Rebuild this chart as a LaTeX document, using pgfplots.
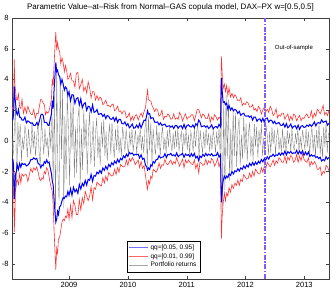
\documentclass[border=0pt]{standalone}
\usepackage{fontspec}
\setmainfont{Liberation Sans}
\usepackage{pgfplots}
\usepackage{pgfplotstable}
\pgfplotsset{compat=1.18}
\definecolor{oosc}{rgb}{0.52,0.36,0.95}
\pgfplotstableread{
t bu bl ru rl
2008.030 1.43 -1.26 2.20 -2.10
2008.045 1.39 -1.22 2.05 -1.95
2008.058 1.72 -1.62 2.35 -2.70
2008.068 3.55 -3.80 5.30 -5.95
2008.078 2.90 -3.20 3.70 -5.00
2008.090 2.48 -2.18 3.30 -3.10
2008.105 1.82 -1.99 2.70 -2.65
2008.120 1.70 -1.58 2.65 -2.55
2008.140 2.03 -1.86 3.05 -2.85
2008.160 1.54 -1.47 2.20 -2.15
2008.180 1.52 -1.72 2.10 -2.75
2008.200 1.35 -1.46 2.70 -2.15
2008.225 1.35 -1.55 1.80 -2.30
2008.250 1.54 -1.49 2.20 -2.20
2008.275 1.17 -1.64 1.80 -2.20
2008.300 1.30 -1.58 2.25 -2.65
2008.325 1.23 -1.46 1.95 -2.20
2008.350 1.14 -1.22 1.75 -1.80
2008.375 1.17 -1.22 1.70 -2.05
2008.400 1.00 -1.11 2.05 -1.75
2008.425 1.00 -1.20 1.45 -1.90
2008.450 1.19 -1.14 1.80 -1.70
2008.475 1.02 -1.49 1.75 -2.05
2008.500 1.35 -1.53 2.35 -2.50
2008.520 1.68 -1.76 2.70 -2.60
2008.540 1.74 -1.57 2.65 -2.40
2008.560 1.67 -1.62 2.45 -2.50
2008.580 1.20 -1.36 2.35 -2.00
2008.600 1.20 -1.45 1.70 -2.15
2008.620 1.19 -1.24 1.90 -1.75
2008.640 1.02 -1.44 1.80 -1.90
2008.660 1.00 -1.38 1.95 -2.35
2008.680 1.38 -1.76 2.30 -2.75
2008.700 1.74 -2.12 2.70 -3.10
2008.715 2.62 -2.62 4.05 -3.30
2008.730 2.10 -2.86 3.60 -4.15
2008.745 3.30 -3.80 4.90 -5.80
2008.760 4.20 -4.60 6.10 -7.10
2008.775 5.10 -5.30 7.10 -8.40
2008.790 4.50 -5.10 5.90 -7.00
2008.805 4.60 -4.60 6.40 -7.30
2008.820 4.30 -4.80 6.00 -6.40
2008.840 4.20 -4.30 5.80 -6.30
2008.860 3.70 -4.20 5.00 -5.80
2008.880 4.00 -3.90 5.40 -5.30
2008.900 3.70 -3.70 5.10 -5.10
2008.920 3.30 -3.75 4.50 -5.20
2008.940 3.50 -3.60 4.90 -4.90
2008.960 3.40 -3.65 4.55 -5.00
2008.980 2.95 -3.30 4.00 -4.45
2009.000 3.19 -3.54 4.10 -5.10
2009.025 2.60 -3.12 4.40 -4.20
2009.050 3.00 -3.55 3.90 -5.00
2009.075 2.98 -3.03 3.90 -3.90
2009.100 2.44 -3.33 3.50 -4.20
2009.125 2.75 -3.16 4.40 -4.80
2009.150 2.81 -3.42 4.45 -4.80
2009.175 2.33 -2.84 3.40 -3.85
2009.200 2.74 -3.14 3.65 -4.50
2009.225 2.15 -2.77 4.00 -3.70
2009.250 2.40 -2.95 3.25 -4.10
2009.275 2.48 -2.58 3.50 -3.30
2009.300 1.99 -2.88 3.10 -3.60
2009.325 2.25 -2.51 3.85 -3.90
2009.350 2.21 -2.57 3.45 -3.60
2009.375 1.88 -2.19 2.80 -3.00
2009.400 2.34 -2.64 3.20 -3.85
2009.425 1.85 -2.26 3.20 -3.05
2009.450 1.90 -2.30 2.65 -3.15
2009.475 2.04 -2.04 2.95 -2.70
2009.500 1.72 -2.14 2.65 -2.80
2009.525 1.75 -1.93 2.85 -2.90
2009.550 1.78 -2.11 2.75 -2.95
2009.575 1.59 -1.77 2.35 -2.40
2009.600 1.72 -1.92 2.45 -2.75
2009.625 1.45 -1.66 2.65 -2.30
2009.650 1.65 -1.85 2.30 -2.60
2009.675 1.59 -1.54 2.30 -2.05
2009.700 1.42 -1.69 2.20 -2.20
2009.725 1.40 -1.43 2.35 -2.30
2009.750 1.53 -1.56 2.40 -2.25
2009.775 1.29 -1.32 1.95 -1.85
2009.800 1.52 -1.47 2.05 -2.20
2009.825 1.20 -1.21 2.25 -1.75
2009.850 1.40 -1.40 1.90 -2.05
2009.875 1.39 -1.14 1.95 -1.55
2009.900 1.12 -1.24 1.75 -1.65
2009.925 1.10 -0.98 1.95 -1.70
2009.950 1.23 -1.11 1.95 -1.65
2009.975 0.99 -0.87 1.50 -1.25
2010.000 1.12 -1.02 1.60 -1.60
2010.025 0.85 -0.76 1.80 -1.15
2010.050 0.95 -0.85 1.30 -1.35
2010.075 1.09 -0.79 1.60 -1.10
2010.100 0.82 -0.94 1.35 -1.25
2010.125 0.85 -0.88 1.65 -1.55
2010.150 1.03 -0.91 1.70 -1.40
2010.175 0.84 -0.87 1.35 -1.25
2010.200 1.12 -1.12 1.60 -1.75
2010.225 0.85 -0.91 1.80 -1.35
2010.250 1.10 -1.20 1.55 -1.80
2010.275 1.34 -1.14 1.90 -1.60
2010.300 1.32 -1.59 2.15 -2.25
2010.320 1.65 -1.68 2.85 -2.85
2010.335 1.95 -1.90 3.30 -3.15
2010.350 1.74 -1.77 2.70 -2.60
2010.370 1.77 -1.87 2.60 -2.80
2010.390 1.45 -1.56 2.60 -2.30
2010.410 1.50 -1.65 2.30 -2.45
2010.430 1.49 -1.34 2.15 -1.85
2010.455 1.22 -1.44 1.90 -1.95
2010.480 1.20 -1.23 2.10 -2.05
2010.505 1.23 -1.21 2.00 -1.85
2010.530 1.04 -0.97 1.60 -1.45
2010.555 1.17 -1.12 1.70 -1.80
2010.580 1.00 -1.06 2.00 -1.55
2010.605 1.05 -1.05 1.40 -1.60
2010.630 1.09 -0.84 1.60 -1.20
2010.655 0.92 -1.09 1.55 -1.50
2010.680 0.95 -0.88 1.75 -1.55
2010.705 0.98 -0.91 1.65 -1.40
2010.730 0.89 -0.82 1.40 -1.25
2010.755 0.97 -0.97 1.45 -1.55
2010.780 0.80 -0.91 1.75 -1.35
2010.805 1.00 -1.00 1.40 -1.50
2010.830 0.99 -0.79 1.50 -1.10
2010.855 0.82 -1.04 1.40 -1.40
2010.880 0.95 -0.93 1.85 -1.65
2010.905 0.98 -0.91 1.65 -1.40
2010.930 0.79 -0.82 1.30 -1.20
2010.955 1.07 -1.07 1.55 -1.75
2010.980 0.80 -0.86 1.75 -1.25
2011.005 1.00 -0.95 1.40 -1.45
2011.030 1.04 -0.89 1.55 -1.25
2011.055 0.92 -1.04 1.55 -1.40
2011.080 0.90 -0.83 1.70 -1.50
2011.105 1.03 -1.01 1.70 -1.55
2011.130 0.84 -0.82 1.30 -1.25
2011.155 1.12 -1.12 1.65 -1.80
2011.180 1.00 -1.01 2.05 -1.50
2011.205 1.35 -1.30 2.05 -2.10
2011.225 1.24 -0.99 1.80 -1.40
2011.250 0.92 -1.09 1.50 -1.45
2011.275 0.95 -0.88 1.75 -1.60
2011.300 0.98 -1.01 1.65 -1.55
2011.325 0.89 -0.82 1.45 -1.20
2011.350 0.97 -0.97 1.45 -1.55
2011.375 0.80 -0.86 1.75 -1.30
2011.400 0.90 -0.95 1.20 -1.45
2011.425 1.04 -0.84 1.55 -1.15
2011.450 0.77 -0.99 1.35 -1.30
2011.475 0.90 -0.93 1.70 -1.65
2011.500 0.93 -0.96 1.55 -1.45
2011.525 0.84 -0.77 1.35 -1.15
2011.550 1.07 -1.07 1.55 -1.70
2011.575 0.90 -0.90 1.40 -1.35
2011.590 4.10 -4.00 5.50 -6.40
2011.605 3.20 -3.10 4.30 -4.80
2011.620 2.50 -2.60 3.40 -4.10
2011.640 2.55 -2.30 3.70 -3.40
2011.660 2.35 -2.45 3.20 -3.90
2011.680 2.45 -2.30 3.60 -3.40
2011.700 2.05 -2.40 2.95 -3.60
2011.720 2.30 -2.15 3.45 -3.05
2011.745 2.00 -2.25 2.85 -3.35
2011.770 2.15 -2.00 3.10 -2.85
2011.795 1.95 -2.15 2.80 -3.10
2011.820 2.05 -1.95 3.00 -2.75
2011.845 1.98 -2.01 2.85 -2.90
2011.870 1.79 -1.82 2.60 -2.55
2011.895 1.92 -1.97 2.60 -2.90
2011.920 1.65 -1.76 2.80 -2.50
2011.945 1.75 -1.85 2.30 -2.65
2011.970 1.79 -1.64 2.45 -2.20
2011.995 1.62 -1.79 2.35 -2.35
2012.020 1.60 -1.58 2.55 -2.50
2012.045 1.63 -1.71 2.45 -2.45
2012.070 1.54 -1.47 2.20 -2.10
2012.095 1.62 -1.62 2.20 -2.40
2012.120 1.35 -1.41 2.35 -2.00
2012.145 1.55 -1.60 2.00 -2.30
2012.170 1.54 -1.39 2.10 -1.85
2012.195 1.27 -1.54 1.90 -2.00
2012.220 1.40 -1.33 2.25 -2.15
2012.245 1.43 -1.46 2.10 -2.15
2012.270 1.24 -1.22 1.75 -1.75
2012.295 1.47 -1.37 2.00 -2.05
2012.320 1.20 -1.16 2.20 -1.65
2012.345 1.45 -1.25 1.90 -1.80
2012.370 1.49 -1.04 2.05 -1.40
2012.395 1.22 -1.19 1.85 -1.55
2012.420 1.35 -0.98 2.25 -1.70
2012.445 1.33 -1.01 2.05 -1.50
2012.470 1.14 -0.87 1.65 -1.25
2012.495 1.27 -1.02 1.75 -1.60
2012.520 1.10 -0.91 2.10 -1.30
2012.545 1.15 -0.95 1.50 -1.45
2012.570 1.19 -0.79 1.70 -1.10
2012.595 1.02 -0.94 1.60 -1.20
2012.620 1.00 -0.78 1.80 -1.40
2012.645 1.13 -0.91 1.80 -1.40
2012.670 0.89 -0.67 1.40 -1.00
2012.695 1.12 -0.92 1.60 -1.45
2012.720 0.85 -0.71 1.75 -1.05
2012.745 0.95 -0.80 1.30 -1.25
2012.770 1.09 -0.69 1.60 -0.95
2012.795 0.82 -0.84 1.35 -1.10
2012.820 0.95 -0.78 1.75 -1.40
2012.845 0.98 -0.81 1.65 -1.25
2012.870 0.79 -0.62 1.30 -0.90
2012.895 1.02 -0.87 1.50 -1.40
2012.920 0.75 -0.66 1.65 -1.00
2012.945 0.95 -0.85 1.30 -1.30
2012.970 0.99 -0.64 1.50 -0.85
2012.995 0.87 -0.94 1.45 -1.20
2013.020 0.90 -0.73 1.65 -1.35
2013.045 1.03 -0.91 1.75 -1.40
2013.070 0.94 -0.72 1.50 -1.10
2013.095 1.07 -1.02 1.55 -1.65
2013.120 0.95 -0.91 1.95 -1.35
2013.145 1.05 -1.00 1.45 -1.55
2013.170 1.24 -0.94 1.80 -1.35
2013.195 0.97 -1.09 1.60 -1.50
2013.220 1.15 -1.03 2.05 -1.85
2013.245 1.18 -1.16 1.95 -1.85
2013.270 1.14 -1.07 1.75 -1.70
2013.295 1.37 -1.32 2.00 -2.25
2013.320 1.20 -1.21 2.30 -2.00
2013.345 1.25 -1.30 1.70 -2.10
2013.370 1.29 -1.04 1.85 -1.60
2013.395 1.02 -1.19 1.65 -1.70
2013.420 1.15 -1.08 2.00 -1.95
}\bands
\begin{document}
\begin{tikzpicture}
\useasboundingbox (-12pt,-25pt) rectangle (320pt,279pt);
\begin{axis}[
  scale only axis, width=317pt, height=261pt,
  xmin=2008.03, xmax=2013.42, ymin=-9, ymax=8,
  xtick={2009,2010,2011,2012,2013},
  xticklabels={2009,2010,2011,2012,2013},
  ytick={-8,-6,-4,-2,0,2,4,6,8},
  tick align=inside, major tick length=3pt,
  /pgf/number format/assume math mode=true,
  ticklabel style={font=\fontsize{7.5}{8}\selectfont},
  axis line style={black!75}, tick style={black!75},
  title={Parametric Value--at--Risk from Normal--GAS copula model, DAX--PX w=[0.5,0.5]},
  title style={font=\fontsize{8}{9}\selectfont, yshift=-3pt},
  legend style={at={(rel axis cs:0.363,0.027)}, anchor=south west,
    font=\fontsize{6.5}{7}\selectfont, draw=black, line width=0.4pt,
    inner sep=1.5pt, row sep=-1.5pt},
  legend cell align=left,
  legend image code/.code={\draw[#1] (0cm,0cm) -- (0.65cm,0cm);},
]
\addlegendimage{blue!55, line width=1.3pt}
\addlegendentry{qq=[0.05, 0.95]}
\addlegendimage{red!60, line width=0.5pt}
\addlegendentry{qq=[0.01, 0.99]}
\addlegendimage{black!35, line width=0.4pt}
\addlegendentry{Portfolio returns}

\addplot[forget plot, black!50, line width=0.35pt] coordinates {
(2008.03,0.3)(2008.05,-1.0)(2008.07,0.7)(2008.09,2.3)(2008.11,-3.1)(2008.13,1.2)(2008.15,-0.4)(2008.17,1.1)(2008.19,-1.3)(2008.21,0.2)
(2008.23,-0.6)(2008.25,1.0)(2008.27,0.4)(2008.29,-1.1)(2008.31,0.8)(2008.33,-0.2)(2008.35,-0.9)(2008.37,1.2)(2008.39,-0.5)(2008.41,0.6)
(2008.43,-1.0)(2008.45,0.2)(2008.47,1.3)(2008.49,-0.7)(2008.51,-1.6)(2008.53,1.5)(2008.55,0.3)(2008.57,-0.9)(2008.59,0.8)(2008.61,-0.4)
(2008.63,0.2)(2008.65,-1.1)(2008.67,0.9)(2008.69,-0.5)(2008.71,1.8)(2008.73,-2.6)(2008.75,2.9)(2008.77,-4.8)(2008.79,4.6)(2008.81,-1.9)
(2008.83,-3.9)(2008.85,4.2)(2008.87,-1.2)(2008.89,3.3)(2008.91,-4.4)(2008.93,1.6)(2008.95,-2.5)(2008.97,3.0)(2008.99,0.7)(2009.01,-2.9)
(2009.03,2.5)(2009.05,-0.6)(2009.07,2.9)(2009.09,-2.4)(2009.11,0.9)(2009.13,-2.1)(2009.15,1.4)(2009.17,2.2)(2009.19,-2.8)(2009.21,0.8)
(2009.23,-1.9)(2009.25,2.0)(2009.27,-0.5)(2009.29,1.4)(2009.31,-2.2)(2009.33,0.6)(2009.35,1.9)(2009.37,-1.5)(2009.39,-0.4)(2009.41,1.3)
(2009.43,-1.7)(2009.45,0.5)(2009.47,1.5)(2009.49,-1.1)(2009.51,0.3)(2009.53,-1.6)(2009.55,1.2)(2009.57,-0.4)(2009.59,1.4)(2009.61,-1.0)
(2009.63,0.6)(2009.65,-1.3)(2009.67,0.2)(2009.69,1.1)(2009.71,-0.9)(2009.73,1.2)(2009.75,-0.3)(2009.77,-1.1)(2009.79,0.8)(2009.81,-0.6)
(2009.83,1.0)(2009.85,-0.8)(2009.87,0.2)(2009.89,-1.0)(2009.91,0.9)(2009.93,0.3)(2009.95,-0.7)(2009.97,0.8)(2009.99,-0.2)(2010.01,-0.9)
(2010.03,0.6)(2010.05,-0.3)(2010.07,0.8)(2010.09,-0.7)(2010.11,0.1)(2010.13,0.7)(2010.15,-0.9)(2010.17,0.4)(2010.19,-0.2)(2010.21,0.8)
(2010.23,-0.6)(2010.25,0.3)(2010.27,-0.8)(2010.29,0.7)(2010.31,1.4)(2010.33,-1.7)(2010.35,1.6)(2010.37,-0.6)(2010.39,1.2)(2010.41,-1.4)
(2010.43,0.8)(2010.45,-0.3)(2010.47,-0.9)(2010.49,1.0)(2010.51,-0.5)(2010.53,0.6)(2010.55,-1.0)(2010.57,0.3)(2010.59,0.9)(2010.61,-0.6)
(2010.63,0.2)(2010.65,-0.8)(2010.67,0.7)(2010.69,-0.4)(2010.71,0.9)(2010.73,-0.1)(2010.75,-0.7)(2010.77,0.5)(2010.79,-0.5)(2010.81,0.7)
(2010.83,-0.4)(2010.85,0.8)(2010.87,-0.7)(2010.89,0.2)(2010.91,0.6)(2010.93,-0.8)(2010.95,0.5)(2010.97,-0.3)(2010.99,0.8)(2011.01,-0.6)
(2011.03,0.4)(2011.05,-0.9)(2011.07,0.6)(2011.09,0.1)(2011.11,-0.7)(2011.13,0.8)(2011.15,-0.4)(2011.17,0.6)(2011.19,1.1)(2011.21,-1.2)
(2011.23,0.7)(2011.25,-0.2)(2011.27,-0.8)(2011.29,0.6)(2011.31,-0.5)(2011.33,0.9)(2011.35,-0.3)(2011.37,0.5)(2011.39,-0.7)(2011.41,0.4)
(2011.43,-0.6)(2011.45,0.7)(2011.47,0.2)(2011.49,-0.8)(2011.51,0.6)(2011.53,-0.3)(2011.55,0.8)(2011.57,-0.9)(2011.59,2.7)(2011.61,-4.3)
(2011.63,2.4)(2011.65,-3.2)(2011.67,3.0)(2011.69,-1.2)(2011.71,2.7)(2011.73,-2.6)(2011.75,0.8)(2011.77,-2.3)(2011.79,2.1)(2011.81,-1.0)
(2011.83,1.8)(2011.85,-1.7)(2011.87,0.6)(2011.89,1.5)(2011.91,-1.6)(2011.93,0.4)(2011.95,-1.2)(2011.97,1.6)(2011.99,-0.8)(2012.01,1.1)
(2012.03,-1.3)(2012.05,0.5)(2012.07,1.2)(2012.09,-1.0)(2012.11,0.3)(2012.13,-1.3)(2012.15,1.1)(2012.17,-0.4)(2012.19,0.9)(2012.21,-1.1)
(2012.23,0.7)(2012.25,-0.3)(2012.27,1.1)(2012.29,-1.0)(2012.31,0.2)(2012.33,-0.8)(2012.35,1.0)(2012.37,0.4)(2012.39,-0.9)(2012.41,0.6)
(2012.43,-0.8)(2012.45,0.9)(2012.47,-0.2)(2012.49,0.7)(2012.51,-0.9)(2012.53,0.3)(2012.55,0.8)(2012.57,-0.6)(2012.59,0.2)(2012.61,-0.7)
(2012.63,0.8)(2012.65,-0.5)(2012.67,0.3)(2012.69,-0.8)(2012.71,0.7)(2012.73,-0.2)(2012.75,0.5)(2012.77,-0.7)(2012.79,0.8)(2012.81,-0.3)
(2012.83,-0.6)(2012.85,0.5)(2012.87,-0.2)(2012.89,0.8)(2012.91,-0.7)(2012.93,0.3)(2012.95,-0.5)(2012.97,0.7)(2012.99,0.1)(2013.01,-0.6)
(2013.03,0.8)(2013.05,-0.4)(2013.07,0.6)(2013.09,-0.9)(2013.11,0.2)(2013.13,0.9)(2013.15,-0.7)(2013.17,0.4)(2013.19,-1.0)(2013.21,0.7)
(2013.23,-0.5)(2013.25,1.1)(2013.27,-0.9)(2013.29,0.3)(2013.31,-1.1)(2013.33,0.9)(2013.35,-0.4)(2013.37,1.2)(2013.39,-0.8)(2013.41,0.5)
};
\addplot[forget plot, red!80, line width=0.6pt] table[x=t,y=ru]{\bands};
\addplot[forget plot, red!80, line width=0.6pt] table[x=t,y=rl]{\bands};
\addplot[forget plot, blue, line width=1pt] table[x=t,y=bu]{\bands};
\addplot[forget plot, blue, line width=1pt] table[x=t,y=bl]{\bands};
\addplot[forget plot, oosc, line width=1.3pt, dash pattern=on 5pt off 1.5pt on 1.5pt off 1.5pt] coordinates {(2012.33,-9) (2012.33,8)};
\node[anchor=west, font=\fontsize{6}{7}\selectfont] at (axis cs:2012.44,6.05) {Out-of-sample};
\end{axis}
\end{tikzpicture}
\end{document}
